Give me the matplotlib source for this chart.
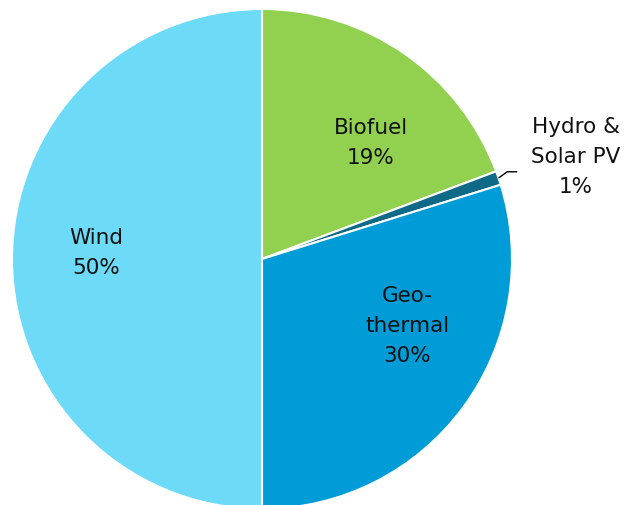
import numpy as np
import matplotlib
matplotlib.use('Agg')
import matplotlib.pyplot as plt

# shares (clockwise from 12 o'clock)
sources = ['Biofuel', 'Hydro &\nSolar PV', 'Geo-\nthermal', 'Wind']
shares = [19.3, 0.9, 29.8, 50.0]
shown = ['19%', '1%', '30%', '50%']
colors = ['#92D050', '#0E6A87', '#009CD8', '#6DDAF8']

plt.rcParams['font.family'] = ['DejaVu Sans']

fig = plt.figure(figsize=(6.44, 5.06), dpi=100)
# pie of radius 1 centred at (262, 260) px, radius 250 px
ax = fig.add_axes([12 / 644, -4 / 506, 500 / 644, 500 / 506])

wedges, _ = ax.pie(shares, colors=colors, startangle=90, counterclock=False,
                   radius=1, wedgeprops=dict(edgecolor='white', linewidth=1.5))
ax.set_xlim(-1, 1)
ax.set_ylim(-1, 1)
ax.set_aspect('equal')
ax.axis('off')

# label placement (data coords of the unit circle)
label_pos = {
    'Biofuel': (0.436, 0.468),
    'Geo-\nthermal': (0.58, -0.264),
    'Wind': (-0.664, 0.028),
}
for name, pct in zip(sources, shown):
    if name in label_pos:
        x, y = label_pos[name]
        ax.text(x, y, name + '\n' + pct, ha='center', va='center',
                fontsize=15.5, linespacing=1.65, color='#111111')

# small slice gets a leader line
w = wedges[1]
mid = np.deg2rad((w.theta1 + w.theta2) / 2)
x0, y0 = np.cos(mid), np.sin(mid)
ax.plot([x0, x0 + 0.035, x0 + 0.075], [y0, y0 + 0.025, y0 + 0.025],
        color='black', lw=1, clip_on=False, solid_capstyle='butt')
ax.text(1.256, 0.412, 'Hydro &\nSolar PV\n1%', ha='center', va='center',
        fontsize=15.5, linespacing=1.65, color='#111111', clip_on=False)

fig.savefig('out.png', dpi=100)
